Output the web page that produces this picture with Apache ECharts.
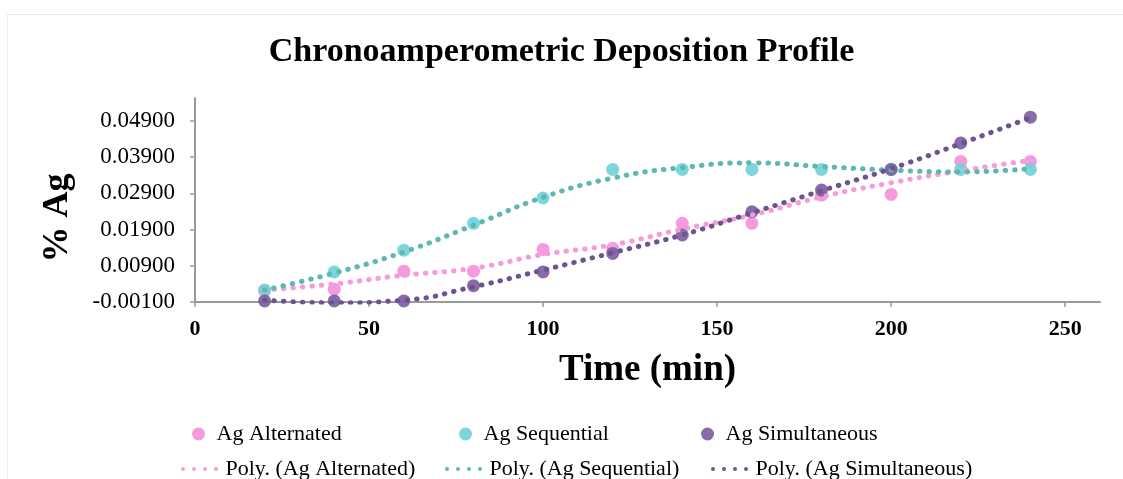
<!DOCTYPE html>
<html>
<head>
<meta charset="utf-8">
<script src="https://cdn.jsdelivr.net/npm/echarts@6/dist/echarts.min.js"></script>
<style>
html,body{margin:0;padding:0;background:#fff;}
#chart{width:1123px;height:479px;}
</style>
</head>
<body>
<div id="chart"></div>
<script>
// ---- data ----
var times = [20, 40, 60, 80, 100, 120, 140, 160, 180, 200, 220, 240];
var alternated   = [0.0021, 0.0025, 0.0075, 0.0075, 0.0135, 0.0138, 0.0207, 0.0207, 0.0285, 0.0287, 0.0378, 0.0378];
var sequential   = [0.0023, 0.0073, 0.0133, 0.0207, 0.0277, 0.0356, 0.0356, 0.0356, 0.0356, 0.0356, 0.0356, 0.0356];
var simultaneous = [-0.0007, -0.0007, -0.0007, 0.0035, 0.0073, 0.0124, 0.0175, 0.0239, 0.0299, 0.0356, 0.0429, 0.0500];
// polynomial trendlines as drawn in the picture, read at each time
var altTrend = [0.0023, 0.0040, 0.0064, 0.0083, 0.0121, 0.0148, 0.0191, 0.0230, 0.0280, 0.0319, 0.0352, 0.0381];
var seqTrend = [0.0023, 0.0070, 0.0128, 0.0202, 0.0279, 0.0332, 0.0361, 0.0374, 0.0364, 0.0354, 0.0349, 0.0358];
var simTrend = [-0.0005, -0.0012, -0.0005, 0.0032, 0.0078, 0.0126, 0.0175, 0.0236, 0.0297, 0.0358, 0.0427, 0.0499];
var yTicks = [-0.001, 0.009, 0.019, 0.029, 0.039, 0.049];
var xTicks = [0, 50, 100, 150, 200, 250];
var names = ['Ag Alternated', 'Ag Sequential', 'Ag Simultaneous'];
var trendNames = ['Poly. (Ag Alternated)', 'Poly. (Ag Sequential)', 'Poly. (Ag Simultaneous)'];

function pairs(xs, ys) { return xs.map(function (x, i) { return [x, ys[i]]; }); }

var FONT = '"Liberation Serif", "Times New Roman", serif';
var markerColors = ['#f48fd8', '#6fd2d7', '#7b5c9f'];
var trendColors = ['#f79bdb', '#5cb8b0', '#6c5490'];
var markerData = [alternated, sequential, simultaneous];
var trendData = [altTrend, seqTrend, simTrend];
var DOTS = 'path://M0,2a2,2 0 1,0 4,0a2,2 0 1,0 -4,0M11,2a2,2 0 1,0 4,0a2,2 0 1,0 -4,0M22,2a2,2 0 1,0 4,0a2,2 0 1,0 -4,0M33,2a2,2 0 1,0 4,0a2,2 0 1,0 -4,0';

var series = [];
for (var i = 0; i < 3; i++) {
  series.push({
    name: names[i], type: 'scatter', symbol: 'circle', symbolSize: 13,
    data: pairs(times, markerData[i]),
    itemStyle: { color: markerColors[i], opacity: 0.9 },
    z: 2
  });
}
for (var j = 0; j < 3; j++) {
  series.push({
    name: trendNames[j], type: 'line', smooth: 0.5, showSymbol: false, symbol: 'none',
    data: pairs(times, trendData[j]),
    lineStyle: { color: trendColors[j], width: 5, type: [0.5, 9], cap: 'round' },
    itemStyle: { color: trendColors[j] },
    z: 3, silent: true
  });
}

var legendText = { fontFamily: FONT, fontSize: 22, color: '#000' };
var legends = [];
var row1Left = [187, 454, 696];
var row2Left = [176, 440, 706];
for (var k = 0; k < 3; k++) {
  legends.push({ data: [{ name: names[k], icon: 'circle' }], left: row1Left[k], top: 418,
    itemWidth: 26, itemHeight: 13, textStyle: legendText, selectedMode: false });
  legends.push({ data: [{ name: trendNames[k], icon: DOTS }], left: row2Left[k], top: 453,
    itemWidth: 42, itemHeight: 4, textStyle: legendText, selectedMode: false });
}

var chart = echarts.init(document.getElementById('chart'), null, { renderer: 'canvas' });
chart.setOption({
  backgroundColor: '#fff',
  animation: false,
  textStyle: { fontFamily: FONT },
  title: {
    text: 'Chronoamperometric Deposition Profile',
    left: 'center', top: 30,
    textStyle: { fontFamily: FONT, fontWeight: 'bold', fontSize: 34, color: '#000' }
  },
  graphic: [{
    type: 'rect', left: 5, top: 12, silent: true,
    shape: { width: 1130, height: 480 },
    style: { fill: null, stroke: '#ececec', lineWidth: 1 }
  }],
  legend: legends,
  grid: { left: 195, right: 23, top: 98, bottom: 177, containLabel: false, outerBoundsMode: 'none' },
  xAxis: {
    type: 'value', min: 0, max: 260, interval: 50,
    name: 'Time (min)', nameLocation: 'middle', nameGap: 50,
    nameTextStyle: { fontFamily: FONT, fontWeight: 'bold', fontSize: 37, color: '#000' },
    axisLine: { show: true, onZero: false, lineStyle: { color: '#9a9a9a', width: 2 } },
    axisTick: { show: true, inside: false, length: 5, customValues: xTicks, lineStyle: { color: '#9a9a9a', width: 1.5 } },
    axisLabel: { customValues: xTicks, margin: 16,
      fontFamily: FONT, fontWeight: 'bold', fontSize: 22, color: '#000',
      formatter: function (v) { return v > 255 ? '' : String(v); } },
    splitLine: { show: false }
  },
  yAxis: {
    type: 'value', min: -0.001, max: 0.0553, interval: 0.01,
    name: '% Ag', nameLocation: 'middle', nameGap: 119, nameRotate: 90,
    nameTextStyle: { fontFamily: FONT, fontWeight: 'bold', fontSize: 36, color: '#000', padding: [0, 36, 0, 0] },
    axisLine: { show: true, onZero: false, lineStyle: { color: '#9a9a9a', width: 2 } },
    axisTick: { show: true, inside: false, length: 5, customValues: yTicks, lineStyle: { color: '#9a9a9a', width: 1.5 } },
    axisLabel: { customValues: yTicks, margin: 20,
      fontFamily: FONT, fontSize: 23, color: '#000',
      formatter: function (v) { return v > 0.052 ? '' : v.toFixed(5); } },
    splitLine: { show: false }
  },
  series: series
});
</script>
</body>
</html>
